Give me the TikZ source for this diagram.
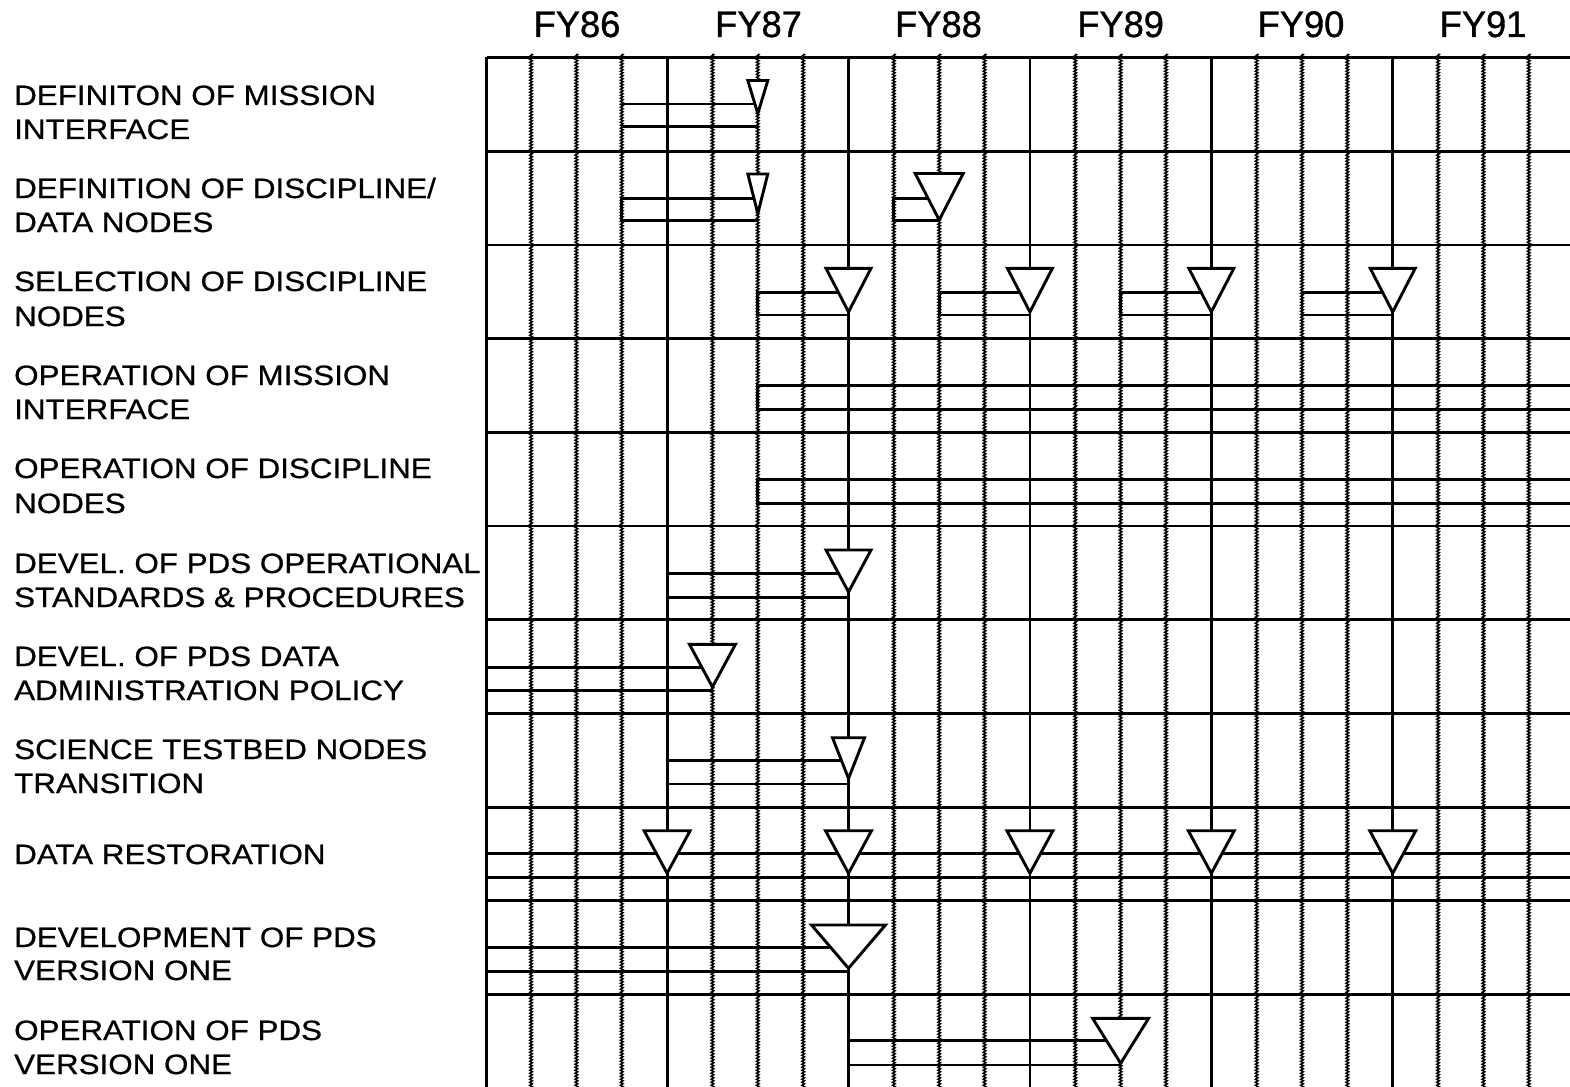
\documentclass[tikz,border=0pt]{standalone}
\usepackage{fontspec}
\setmainfont{Liberation Sans}
\newfontfamily\lblfont[FakeStretch=1.12,FakeBold=0.6]{Liberation Sans}
\newfontfamily\hdrfont[FakeStretch=0.98,FakeBold=1]{Liberation Sans}
\usetikzlibrary{decorations.pathmorphing}
\newcommand\gbar[4]{\draw[grid] (#2,#3) -- (#1,#3) -- (#1,#4) -- (#2,#4);}
\newcommand\ms[4]{\draw[tri] ({#1-#4},#2) -- ({#1+#4},#2) -- (#1,#3) -- cycle;}
\begin{document}
\begin{tikzpicture}[x=1pt,y=-1pt,
  grid/.style={line width=2.8pt},
  hatch/.style={line width=1.5pt, decorate, decoration={zigzag, amplitude=1.3pt, segment length=3pt}},
  tri/.style={draw, fill=white, line width=2.9pt, line join=miter},
  lbl/.style={anchor=base west, inner sep=0pt, font=\lblfont\fontsize{28}{28}\selectfont},
  hdr/.style={anchor=base, inner sep=0pt, font=\hdrfont\fontsize{37}{37}\selectfont}]
\fill[white] (0,0) rectangle (1570,1086);
\useasboundingbox (0,0) rectangle (1570,1086);

% headers
\node[hdr] (fy86) at (577,37) {FY86};
\node[hdr] (fy87) at (758.5,37) {FY87};
\node[hdr] (fy88) at (938.5,37) {FY88};
\node[hdr] (fy89) at (1120.6,37) {FY89};
\node[hdr] (fy90) at (1301,37) {FY90};
\node[hdr] (fy91) at (1483,37) {FY91};

% labels
\node[lbl] (l1a) at (14,105) {DEFINITON OF MISSION};
\node[lbl] (l1b) at (14,139) {INTERFACE};
\node[lbl] (l2a) at (14,198) {DEFINITION OF DISCIPLINE/};
\node[lbl] (l2b) at (14,232) {DATA NODES};
\node[lbl] (l3a) at (14,291) {SELECTION OF DISCIPLINE};
\node[lbl] (l3b) at (14,326) {NODES};
\node[lbl] (l4a) at (14,385) {OPERATION OF MISSION};
\node[lbl] (l4b) at (14,419) {INTERFACE};
\node[lbl] (l5a) at (14,478) {OPERATION OF DISCIPLINE};
\node[lbl] (l5b) at (14,513) {NODES};
\node[lbl] (l6a) at (14,573) {DEVEL. OF PDS OPERATIONAL};
\node[lbl] (l6b) at (14,607) {STANDARDS \& PROCEDURES};
\node[lbl] (l7a) at (14,666) {DEVEL. OF PDS DATA};
\node[lbl] (l7b) at (14,700) {ADMINISTRATION POLICY};
\node[lbl] (l8a) at (14,759) {SCIENCE TESTBED NODES};
\node[lbl] (l8b) at (14,793) {TRANSITION};
\node[lbl] (l9a) at (14,864) {DATA RESTORATION};
\node[lbl] (l10a) at (14,947) {DEVELOPMENT OF PDS};
\node[lbl] (l10b) at (14,980) {VERSION ONE};
\node[lbl] (l11a) at (14,1040) {OPERATION OF PDS};
\node[lbl] (l11b) at (14,1074) {VERSION ONE};

% quarter hatch lines
\foreach \n in {1,2,3,5,6,7,9,10,11,13,14,15,17,18,19,21,22,23}
  \draw[hatch] ({485.7+45.35*\n},54) -- ({485.7+45.35*\n},1090);

% row separators
\foreach \k in {0,...,10}
  \draw[grid] (486.5,{57.5+93.7*\k}) -- (1572,{57.5+93.7*\k});
% left border and year lines
\draw[grid] (486.5,57.5) -- (486.5,1090);
\foreach \n in {4,8,12,16,20}
  \draw[grid] ({485.7+45.35*\n},57.5) -- ({485.7+45.35*\n},1090);

% bars
\draw[grid] (621.75,104) -- (757.8,104);
\draw[grid] (621.75,126.7) -- (757.8,126.7);
\gbar{621.75}{757.8}{198.3}{220.7}
\gbar{893.85}{939.2}{198.3}{220.7}
\gbar{757.8}{848.5}{292.3}{315}
\gbar{939.2}{1029.9}{292.3}{315}
\gbar{1120.6}{1211.3}{292.3}{315}
\gbar{1302}{1392.7}{292.3}{315}
\gbar{757.8}{1575}{385.7}{409.3}
\gbar{757.8}{1575}{479.3}{503.3}
\gbar{667.1}{848.5}{573.3}{597.3}
\gbar{486.5}{712.45}{667.7}{690.7}
\gbar{667.1}{848.5}{760.7}{784}
\gbar{486.5}{1575}{853.3}{877.3}
\gbar{486.5}{848.5}{947.7}{971.7}
\gbar{848.5}{1120.6}{1040.7}{1065}

% milestones
\ms{757.8}{80.5}{113.5}{10}
\ms{757.8}{174}{213.5}{10}
\ms{939.2}{173.5}{220}{24}
\foreach \x in {848.5,1029.9,1211.3,1392.7} {\ms{\x}{268.3}{312}{22.5}}
\ms{848.5}{550}{592}{22.5}
\ms{712.45}{644.3}{687}{23}
\ms{848.5}{737.7}{778.5}{16}
\foreach \x in {667.1,848.5,1029.9,1211.3,1392.7} {\ms{\x}{830.7}{873.3}{23}}
\ms{848.5}{925}{968.3}{37}
\ms{1120.6}{1018.3}{1063.3}{28}
\end{tikzpicture}
\end{document}
